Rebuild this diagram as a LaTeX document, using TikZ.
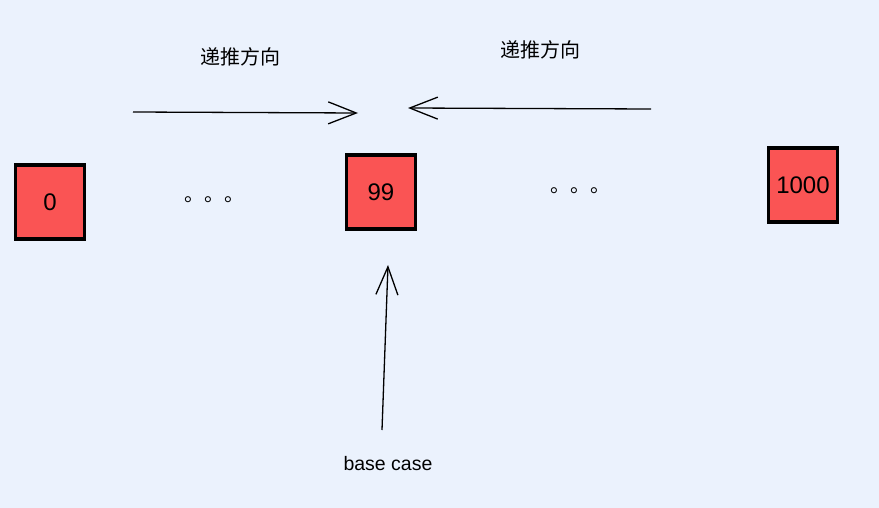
\documentclass[tikz,border=0pt]{standalone}
\usepackage{fontspec}
\setmainfont{Liberation Sans}
\newfontfamily\cjk{Noto Sans CJK SC}
\usetikzlibrary{arrows.meta}
\definecolor{bg}{RGB}{235,242,253}
\definecolor{boxred}{RGB}{250,84,84}
\begin{document}
\begin{tikzpicture}[x=1pt,y=-1pt,
  numbox/.style={draw=black,fill=boxred,line width=3.6pt,minimum width=69pt,minimum height=74pt,inner sep=0pt,font=\fontsize{24}{26}\selectfont},
  lbl/.style={font=\cjk\fontsize{20}{22}\selectfont},
  dots/.style={font=\cjk\fontsize{20}{22}\selectfont,inner sep=0pt},
  arr/.style={line width=1.3pt,-{Straight Barb[length=28pt,width=22pt,line width=1.3pt]}}]
\fill[bg] (0,0) rectangle (879,508);
\useasboundingbox (0,0) rectangle (879,508);
\node[numbox] (b0) at (50,202) {0};
\node[numbox] (b99) at (381,192) {99};
\node[numbox] (b1000) at (803,185) {1000};
\node[dots] (d1) at (214,200) {。。。};
\node[dots] (d2) at (580,191) {。。。};
\node[lbl] (l1) at (240,57) {递推方向};
\node[lbl] (l2) at (540,50) {递推方向};
\node[font=\fontsize{19.5}{21}\selectfont] (bc) at (388,464) {base case};
\coordinate (a1s) at (133,112);
\coordinate (a1e) at (358,113);
\coordinate (a2s) at (651,109);
\coordinate (a2e) at (408,108);
\coordinate (a3s) at (382,430);
\coordinate (a3e) at (388,265);
\draw[arr] (a1s) -- (a1e);
\draw[arr] (a2s) -- (a2e);
\draw[arr] (a3s) -- (a3e);
\end{tikzpicture}
\end{document}
